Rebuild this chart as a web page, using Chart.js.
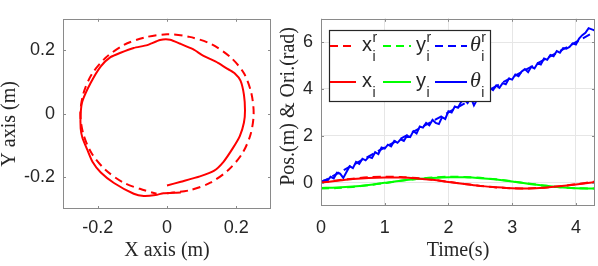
<!DOCTYPE html>
<html><head><meta charset="utf-8">
<script src="https://cdn.jsdelivr.net/npm/chart.js@4"></script>
<style>
html,body{margin:0;padding:0;background:#fff;}
#wrap{position:relative;width:598px;height:266px;overflow:hidden;background:#fff;}
#c1{position:absolute;left:0;top:0;width:300px;height:266px;}
#c2{position:absolute;left:275px;top:0;width:323px;height:266px;}
</style></head><body>
<div id="wrap"><canvas id="c1" width="300" height="266"></canvas><canvas id="c2" width="323" height="266"></canvas></div>
<script>
// ---- Left panel: XY trajectory ----
const refTrajX = [0.000, 0.065, 0.125, 0.177, 0.217, 0.241, 0.250, 0.243, 0.222, 0.184, 0.128, 0.065, 0.000, -0.065, -0.125, -0.177, -0.217, -0.241, -0.250, -0.241, -0.217, -0.177, -0.125, -0.065, -0.030];
const refTrajY = [-0.250, -0.241, -0.217, -0.177, -0.125, -0.065, 0.000, 0.067, 0.128, 0.178, 0.220, 0.243, 0.251, 0.241, 0.217, 0.177, 0.125, 0.065, 0.000, -0.065, -0.125, -0.177, -0.217, -0.241, -0.252];
const actTrajX = [0.000, 0.040, 0.095, 0.135, 0.163, 0.190, 0.210, 0.222, 0.225, 0.222, 0.212, 0.195, 0.176, 0.147, 0.104, 0.075, 0.037, 0.009, -0.020, -0.057, -0.096, -0.134, -0.163, -0.191, -0.220, -0.244, -0.249, -0.249, -0.244, -0.230, -0.215, -0.191, -0.153, -0.096, -0.067, -0.033, -0.010, 0.015, 0.040];
const actTrajY = [-0.226, -0.214, -0.197, -0.180, -0.151, -0.108, -0.070, -0.027, 0.011, 0.060, 0.105, 0.128, 0.141, 0.161, 0.184, 0.204, 0.222, 0.234, 0.233, 0.217, 0.208, 0.193, 0.179, 0.150, 0.098, 0.040, 0.002, -0.046, -0.075, -0.113, -0.151, -0.185, -0.218, -0.252, -0.259, -0.256, -0.250, -0.249, -0.248];
const leftTicks = [-0.2, 0, 0.2];
const leftTickLabels = ['-0.2', '0', '0.2'];

// ---- Right panel: time series ----
const timeCoarse = [0, 0.25, 0.5, 0.75, 1.0, 1.25, 1.5, 1.75, 2.0, 2.25, 2.5, 2.75, 3.0, 3.25, 3.5, 3.75, 4.0, 4.25, 4.3];
const xRef = [0, 0.092, 0.170, 0.226, 0.249, 0.239, 0.195, 0.124, 0.035, -0.058, -0.143, -0.208, -0.244, -0.247, -0.215, -0.154, -0.070, 0.023, 0.042];
const yRef = [-0.250, -0.233, -0.183, -0.108, -0.018, 0.075, 0.157, 0.218, 0.248, 0.243, 0.205, 0.139, 0.053, -0.041, -0.128, -0.197, -0.240, -0.249, -0.247];
const xAct = [0, 0.075, 0.150, 0.200, 0.222, 0.215, 0.180, 0.120, 0.030, -0.060, -0.140, -0.200, -0.245, -0.250, -0.220, -0.160, -0.080, 0.000, 0.010];
const yAct = [-0.226, -0.210, -0.170, -0.100, -0.010, 0.080, 0.150, 0.200, 0.232, 0.225, 0.190, 0.130, 0.050, -0.050, -0.130, -0.200, -0.240, -0.255, -0.250];
const timeTheta = [0.00,0.05,0.10,0.15,0.20,0.25,0.30,0.35,0.40,0.45,0.50,0.55,0.60,0.65,0.70,0.75,0.80,0.85,0.90,0.95,1.00,1.05,1.10,1.15,1.20,1.25,1.30,1.35,1.40,1.45,1.50,1.55,1.60,1.65,1.70,1.75,1.80,1.85,1.90,1.95,2.00,2.05,2.10,2.15,2.20,2.25,2.30,2.35,2.40,2.45,2.50,2.55,2.60,2.65,2.70,2.75,2.80,2.85,2.90,2.95,3.00,3.05,3.10,3.15,3.20,3.25,3.30,3.35,3.40,3.45,3.50,3.55,3.60,3.65,3.70,3.75,3.80,3.85,3.90,3.95,4.00,4.05,4.10,4.15,4.20,4.25,4.30];
const thetaAct = [0.02,0.10,0.08,0.25,0.18,0.42,0.38,0.20,0.45,0.70,0.62,0.88,0.80,1.02,0.95,1.10,1.05,1.30,1.22,1.50,1.45,1.62,1.55,1.78,1.70,1.85,1.78,2.00,1.95,2.20,2.10,2.40,2.35,2.55,2.45,2.68,2.55,2.50,2.80,2.72,3.05,3.00,3.25,3.20,3.45,3.55,3.40,3.65,3.30,3.55,3.80,3.70,3.95,4.05,3.95,4.15,4.05,4.25,4.20,4.45,4.40,4.62,4.55,4.75,4.85,4.72,4.95,4.88,5.10,5.05,5.30,5.25,5.45,5.40,5.62,5.55,5.75,5.72,5.80,5.95,5.90,6.15,6.30,6.40,6.60,6.55,6.50];
const timeThetaRef = [0, 1, 2, 3, 4, 4.3];
const thetaRef = [0, 1.5, 3.0, 4.5, 6.0, 6.45];
const rightXTicks = [0, 1, 2, 3, 4];
const rightYTicks = [0, 2, 4, 6];

const zip = (xs, ys) => xs.map((x, i) => ({x: x, y: ys[i]}));
const TEXT = '#262626';
const TICKFONT = {family: "'Liberation Sans', Arial, sans-serif", size: 18};
const TITLEFONT = {family: "'Liberation Serif', 'Times New Roman', serif", size: 20, lineHeight: 1.0};
const DASH = [8, 5];

// box + inward ticks, like MATLAB axes
const boxPlugin = {
  id: 'mlBox',
  afterDatasetsDraw(chart) {
    const ctx = chart.ctx, a = chart.chartArea;
    const xs = chart.scales.x, ys = chart.scales.y;
    ctx.save();
    ctx.strokeStyle = '#8a8a8a';
    ctx.lineWidth = 1;
    ctx.beginPath();
    xs.ticks.forEach(t => {
      const p = Math.round(xs.getPixelForValue(t.value)) + 0.5;
      ctx.moveTo(p, a.bottom); ctx.lineTo(p, a.bottom - 3);
      ctx.moveTo(p, a.top); ctx.lineTo(p, a.top + 3);
    });
    ys.ticks.forEach(t => {
      const p = Math.round(ys.getPixelForValue(t.value)) + 0.5;
      ctx.moveTo(a.left, p); ctx.lineTo(a.left + 3, p);
      ctx.moveTo(a.right, p); ctx.lineTo(a.right - 3, p);
    });
    ctx.stroke();
    ctx.strokeRect(Math.round(a.left) + 0.5, Math.round(a.top) + 0.5, Math.round(a.right - a.left) - 1, Math.round(a.bottom - a.top) - 1);
    ctx.restore();
  }
};

// vertical axis title drawn with an offset from the y-scale centre
function yTitlePlugin(text, x, dy) {
  return {
    id: 'yTitle',
    afterDraw(chart) {
      const ctx = chart.ctx, a = chart.chartArea;
      ctx.save();
      ctx.translate(x, (a.top + a.bottom) / 2 + dy);
      ctx.rotate(-Math.PI / 2);
      ctx.fillStyle = TEXT;
      ctx.font = "20px 'Liberation Serif', 'Times New Roman', serif";
      ctx.textAlign = 'center';
      ctx.textBaseline = 'middle';
      ctx.fillText(text, 0, 0);
      ctx.restore();
    }
  };
}

function fixedTicks(values) {
  return function(scale) { scale.ticks = values.map(v => ({value: v})); };
}

// ---------- Left chart ----------
new Chart(document.getElementById('c1'), {
  type: 'scatter',
  data: {
    datasets: [
      {label: 'actual', data: zip(actTrajX, actTrajY), showLine: true, borderColor: '#ff0000', borderWidth: 2, pointRadius: 0, tension: 0.2, fill: false},
      {label: 'reference', data: zip(refTrajX, refTrajY), showLine: true, borderColor: '#ff0000', borderWidth: 2, borderDash: DASH, pointRadius: 0, tension: 0.3, fill: false}
    ]
  },
  options: {
    responsive: false, animation: false,
    layout: {padding: {left: 0, right: 29, top: 1, bottom: 0}},
    plugins: {legend: {display: false}, tooltip: {enabled: false}},
    scales: {
      x: {
        type: 'linear', min: -0.3, max: 0.3,
        afterBuildTicks: fixedTicks(leftTicks),
        afterFit: s => { s.height = 57; },
        grid: {display: false, drawTicks: false},
        border: {display: false},
        ticks: {color: TEXT, font: TICKFONT, padding: 8, maxRotation: 0, autoSkip: false,
          callback: (v) => leftTickLabels[leftTicks.indexOf(v)]},
        title: {display: true, text: 'X axis (m)', color: TEXT, font: TITLEFONT, padding: {top: 0, bottom: 5}}
      },
      y: {
        type: 'linear', min: -0.3, max: 0.3,
        afterBuildTicks: fixedTicks(leftTicks),
        afterFit: s => { s.width = 63; },
        grid: {display: false, drawTicks: false},
        border: {display: false},
        ticks: {color: TEXT, font: TICKFONT, padding: 8, autoSkip: false,
          callback: (v) => leftTickLabels[leftTicks.indexOf(v)]},
        title: {display: false}
      }
    }
  },
  plugins: [boxPlugin, yTitlePlugin('Y axis (m)', 10, 10)]
});

// ---------- Right chart ----------
const legendRows = [
  [{ds: 3, main: 'x', sup: 'r', sub: 'i'}, {ds: 4, main: 'y', sup: 'r', sub: 'i'}, {ds: 5, main: 'θ', sup: 'r', sub: 'i', greek: true}],
  [{ds: 0, main: 'x', sup: '', sub: 'i'}, {ds: 1, main: 'y', sup: '', sub: 'i'}, {ds: 2, main: 'θ', sup: '', sub: 'i', greek: true}]
];
const legendPlugin = {
  id: 'mlLegend',
  afterDraw(chart) {
    const ctx = chart.ctx, a = chart.chartArea;
    const bx = Math.round(a.left) + 8, by = Math.round(a.top) + 11, bw = 161, bh = 71;
    ctx.save();
    ctx.fillStyle = '#fff';
    ctx.fillRect(bx, by, bw, bh);
    ctx.strokeStyle = '#262626';
    ctx.lineWidth = 1.2;
    ctx.strokeRect(bx + 0.5, by + 0.5, bw, bh);
    const colLine = [[1, 27], [54, 82], [106, 138]];
    const colText = [33, 87, 141];
    const rowY = [16, 52];
    legendRows.forEach((row, r) => {
      row.forEach((it, c) => {
        const ds = chart.data.datasets[it.ds];
        const ly = by + rowY[r];
        ctx.strokeStyle = ds.borderColor;
        ctx.lineWidth = 2;
        ctx.setLineDash(ds.borderDash || []);
        ctx.beginPath();
        ctx.moveTo(bx + colLine[c][0], ly);
        ctx.lineTo(bx + colLine[c][1], ly);
        ctx.stroke();
        ctx.setLineDash([]);
        ctx.fillStyle = TEXT;
        ctx.textBaseline = 'alphabetic';
        ctx.textAlign = 'left';
        const base = ly + 5;
        const tx = bx + colText[c];
        ctx.font = it.greek ? "italic 22px 'Liberation Serif', serif" : "20px 'Liberation Sans', Arial, sans-serif";
        ctx.fillText(it.main, tx, base);
        const w = ctx.measureText(it.main).width;
        ctx.font = "14px 'Liberation Sans', Arial, sans-serif";
        if (it.sup) ctx.fillText(it.sup, tx + w + 0.5, base - 9);
        ctx.fillText(it.sub, tx + w + 0.5, base + 10);
      });
    });
    ctx.restore();
  }
};

new Chart(document.getElementById('c2'), {
  type: 'scatter',
  data: {
    datasets: [
      {label: 'x_i', data: zip(timeCoarse, xAct), showLine: true, borderColor: '#ff0000', borderWidth: 2, pointRadius: 0, tension: 0.3},
      {label: 'y_i', data: zip(timeCoarse, yAct), showLine: true, borderColor: '#00ff00', borderWidth: 2, pointRadius: 0, tension: 0.3},
      {label: 'theta_i', data: zip(timeTheta, thetaAct), showLine: true, borderColor: '#0000ff', borderWidth: 2, pointRadius: 0, tension: 0},
      {label: 'x_i^r', data: zip(timeCoarse, xRef), showLine: true, borderColor: '#ff0000', borderWidth: 2, borderDash: DASH, pointRadius: 0, tension: 0.3},
      {label: 'y_i^r', data: zip(timeCoarse, yRef), showLine: true, borderColor: '#00ff00', borderWidth: 2, borderDash: DASH, pointRadius: 0, tension: 0.3},
      {label: 'theta_i^r', data: zip(timeThetaRef, thetaRef), showLine: true, borderColor: '#0000ff', borderWidth: 2, borderDash: DASH, pointRadius: 0, tension: 0}
    ]
  },
  options: {
    responsive: false, animation: false,
    layout: {padding: {left: 0, right: 3, top: 6, bottom: 0}},
    plugins: {legend: {display: false}, tooltip: {enabled: false}},
    scales: {
      x: {
        type: 'linear', min: 0, max: 4.3,
        afterBuildTicks: fixedTicks(rightXTicks),
        afterFit: s => { s.height = 60; },
        grid: {display: true, color: '#e6e6e6', drawTicks: false},
        border: {display: false},
        ticks: {color: TEXT, font: TICKFONT, padding: 11, maxRotation: 0, autoSkip: false},
        title: {display: true, text: 'Time(s)', color: TEXT, font: TITLEFONT, padding: {top: 0, bottom: 5}}
      },
      y: {
        type: 'linear', min: -1, max: 7,
        afterBuildTicks: fixedTicks(rightYTicks),
        afterFit: s => { s.width = 46; },
        grid: {display: true, color: '#e6e6e6', drawTicks: false},
        border: {display: false},
        ticks: {color: TEXT, font: TICKFONT, padding: 8, autoSkip: false},
        title: {display: false}
      }
    }
  },
  plugins: [boxPlugin, legendPlugin, yTitlePlugin('Pos.(m) & Ori.(rad)', 14, -6)]
});
</script>
</body></html>
